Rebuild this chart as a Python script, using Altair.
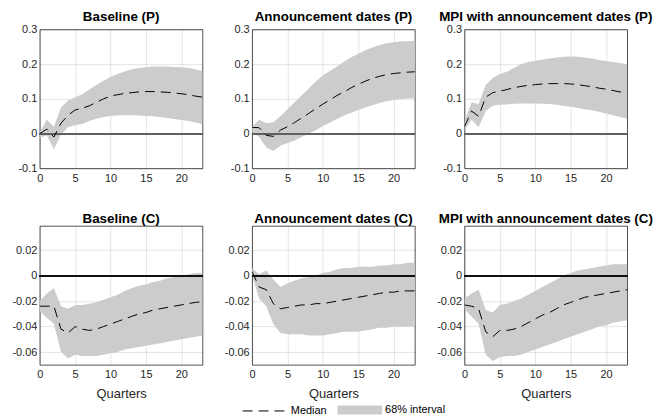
import altair as alt
import pandas as pd

# ── Data (quarters 0..23) ──
quarters = list(range(24))

titles = [
    'Baseline (P)', 'Announcement dates (P)', 'MPI with announcement dates (P)',
    'Baseline (C)', 'Announcement dates (C)', 'MPI with announcement dates (C)',
]

# Baseline (P)
base_p_med = [0.0, 0.013, -0.01, 0.03, 0.053, 0.068, 0.073, 0.08, 0.09, 0.1, 0.108, 0.112,
              0.116, 0.118, 0.12, 0.121, 0.121, 0.12, 0.119, 0.117, 0.115, 0.112, 0.108, 0.105]
base_p_lo = [-0.012, -0.005, -0.045, -0.003, 0.018, 0.024, 0.028, 0.036, 0.043, 0.048, 0.051, 0.053,
             0.053, 0.053, 0.052, 0.051, 0.05, 0.048, 0.045, 0.042, 0.039, 0.036, 0.032, 0.028]
base_p_hi = [0.005, 0.04, 0.02, 0.075, 0.095, 0.105, 0.113, 0.127, 0.14, 0.152, 0.163, 0.172,
             0.179, 0.185, 0.189, 0.191, 0.193, 0.193, 0.193, 0.192, 0.191, 0.189, 0.185, 0.18]

# Announcement dates (P)
ann_p_med = [0.018, 0.017, -0.005, -0.008, 0.01, 0.02, 0.032, 0.045, 0.058, 0.072, 0.085, 0.097,
             0.11, 0.12, 0.132, 0.142, 0.151, 0.159, 0.165, 0.17, 0.173, 0.175, 0.177, 0.178]
ann_p_lo = [0.005, -0.01, -0.04, -0.05, -0.035, -0.027, -0.02, -0.01, 0.0, 0.01, 0.022, 0.032,
            0.042, 0.052, 0.06, 0.068, 0.075, 0.082, 0.088, 0.093, 0.097, 0.1, 0.101, 0.102]
ann_p_hi = [0.02, 0.04, 0.03, 0.033, 0.05, 0.07, 0.09, 0.11, 0.13, 0.15, 0.167, 0.18,
            0.193, 0.207, 0.22, 0.23, 0.24, 0.248, 0.255, 0.26, 0.263, 0.265, 0.266, 0.267]

# MPI with announcement dates (P)
mpi_p_med = [0.02, 0.065, 0.05, 0.105, 0.118, 0.122, 0.127, 0.132, 0.136, 0.139, 0.141, 0.143,
             0.144, 0.144, 0.144, 0.143, 0.141, 0.138, 0.135, 0.131, 0.128, 0.124, 0.12, 0.115]
mpi_p_lo = [0.01, 0.04, 0.018, 0.065, 0.08, 0.083, 0.084, 0.086, 0.087, 0.087, 0.087, 0.086,
            0.085, 0.083, 0.08, 0.077, 0.074, 0.07, 0.067, 0.063, 0.058, 0.053, 0.048, 0.043]
mpi_p_hi = [0.035, 0.09, 0.085, 0.14, 0.16, 0.172, 0.178, 0.19, 0.2, 0.206, 0.21, 0.213,
            0.216, 0.219, 0.221, 0.222, 0.221, 0.219, 0.216, 0.212, 0.209, 0.206, 0.203, 0.2]

# Baseline (C)
base_c_med = [-0.024, -0.024, -0.024, -0.042, -0.045, -0.04, -0.042, -0.043, -0.042, -0.04, -0.038, -0.036,
              -0.034, -0.032, -0.03, -0.029, -0.027, -0.026, -0.025, -0.024, -0.023, -0.022, -0.021, -0.0205]
base_c_lo = [-0.028, -0.033, -0.038, -0.06, -0.065, -0.062, -0.063, -0.063, -0.063, -0.062, -0.061, -0.06,
             -0.058, -0.057, -0.056, -0.055, -0.054, -0.053, -0.052, -0.051, -0.05, -0.049, -0.048, -0.047]
base_c_hi = [-0.02, -0.014, -0.01, -0.024, -0.026, -0.023, -0.023, -0.022, -0.021, -0.019, -0.017, -0.015,
             -0.012, -0.01, -0.008, -0.007, -0.005, -0.004, -0.002, -0.001, 0.0, 0.001, 0.002, 0.002]

# Announcement dates (C)
ann_c_med = [0.003, -0.009, -0.011, -0.022, -0.026, -0.025, -0.024, -0.023, -0.023, -0.022, -0.022, -0.021,
             -0.02, -0.019, -0.018, -0.017, -0.016, -0.015, -0.014, -0.013, -0.013, -0.012, -0.012, -0.012]
ann_c_lo = [0.0, -0.018, -0.024, -0.038, -0.045, -0.046, -0.046, -0.046, -0.047, -0.047, -0.047, -0.046,
            -0.045, -0.044, -0.044, -0.044, -0.043, -0.042, -0.041, -0.041, -0.04, -0.04, -0.04, -0.04]
ann_c_hi = [0.006, 0.001, 0.004, -0.003, -0.009, -0.006, -0.004, -0.002, -0.001, 0.0, 0.002, 0.003,
            0.005, 0.006, 0.006, 0.007, 0.007, 0.007, 0.008, 0.008, 0.009, 0.009, 0.01, 0.01]

# MPI with announcement dates (C)
mpi_c_med = [-0.023, -0.024, -0.026, -0.044, -0.048, -0.043, -0.043, -0.042, -0.04, -0.037, -0.034, -0.031,
             -0.029, -0.026, -0.023, -0.021, -0.019, -0.017, -0.016, -0.015, -0.014, -0.013, -0.012, -0.011]
mpi_c_lo = [-0.026, -0.032, -0.038, -0.062, -0.067, -0.064, -0.063, -0.063, -0.062, -0.06, -0.058, -0.056,
            -0.054, -0.052, -0.05, -0.048, -0.046, -0.044, -0.042, -0.04, -0.039, -0.037, -0.036, -0.035]
mpi_c_hi = [-0.018, -0.014, -0.011, -0.027, -0.029, -0.023, -0.022, -0.02, -0.018, -0.015, -0.012, -0.009,
            -0.006, -0.003, 0.0, 0.002, 0.004, 0.005, 0.006, 0.007, 0.008, 0.009, 0.009, 0.009]

medians = [base_p_med, ann_p_med, mpi_p_med, base_c_med, ann_c_med, mpi_c_med]
lowers = [base_p_lo, ann_p_lo, mpi_p_lo, base_c_lo, ann_c_lo, mpi_c_lo]
uppers = [base_p_hi, ann_p_hi, mpi_p_hi, base_c_hi, ann_c_hi, mpi_c_hi]

x_ticks = [0, 5, 10, 15, 20]
top_ticks = [-0.1, 0, 0.1, 0.2, 0.3]
bottom_ticks = [-0.06, -0.04, -0.02, 0, 0.02]

FONT = 'Liberation Sans'
W, H = 164, 140


def panel(i):
    top = i < 3
    df = pd.DataFrame({
        'q': quarters, 'med': medians[i], 'lo': lowers[i], 'hi': uppers[i],
        'band': '68% interval', 'line': 'Median',
    })
    x_axis = alt.Axis(values=x_ticks, tickCount=10, title=None if top else 'Quarters',
                      labelOverlap=False, labelPadding=4, titlePadding=8)
    x = alt.X('q:Q', scale=alt.Scale(domain=[0, 23], nice=False, zero=False), axis=x_axis)
    y_scale = alt.Scale(domain=[-0.1, 0.3] if top else [-0.07, 0.039], nice=False, zero=False)
    y_axis = alt.Axis(values=top_ticks if top else bottom_ticks, tickCount=10, title=None,
                      labelOverlap=False, labelPadding=3, labelExpr="'' + datum.value")

    band = alt.Chart(df).mark_area(clip=True, opacity=1).encode(
        x=x,
        y=alt.Y('lo:Q', scale=y_scale, axis=y_axis),
        y2='hi:Q',
        fill=alt.Fill('band:N', scale=alt.Scale(domain=['68% interval'], range=['#cccccc']),
                      legend=alt.Legend(orient='none', legendX=300, legendY=361, title=None,
                                        symbolType='M-1,-0.2L1,-0.2L1,0.2L-1,0.2Z',
                                        symbolSize=2025, symbolStrokeWidth=0,
                                        symbolOpacity=1, labelOffset=3)),
    )
    zero = alt.Chart(df).mark_rule(
        color='#606060' if top else '#111111', strokeWidth=1.4 if top else 1.1
    ).encode(y=alt.datum(0))
    line = alt.Chart(df).mark_line(clip=True, color='black', strokeWidth=1).encode(
        x=x,
        y=alt.Y('med:Q', scale=y_scale, axis=y_axis),
        strokeDash=alt.StrokeDash('line:N', scale=alt.Scale(domain=['Median'], range=[[10, 6]]),
                                  legend=alt.Legend(orient='none', legendX=204, legendY=361,
                                                    title=None, symbolSize=2116,
                                                    symbolStrokeWidth=1,
                                                    symbolStrokeColor='black',
                                                    labelOffset=2)),
    )
    return (band + zero + line).properties(
        width=W, height=H,
        title=alt.Title(titles[i], fontSize=13.5, fontWeight='bold', font=FONT,
                        color='black', offset=0, frame='group'),
    )


chart = alt.concat(
    *[panel(i) for i in range(6)], columns=3,
    spacing={'row': 58, 'column': 50}, bounds='flush',
).resolve_scale(
    x='independent', y='independent',
).properties(
    padding={'left': 3, 'top': 0, 'right': 0, 'bottom': 0}
).configure(
    font=FONT,
).configure_view(
    stroke='#262626', strokeWidth=0.8,
).configure_axis(
    labelFont=FONT, labelFontSize=11, labelColor='#262626',
    titleFont=FONT, titleFontSize=13, titleFontWeight='normal', titleColor='#262626',
    labelFlush=False,
    domain=False, ticks=False,
    grid=True, gridColor='#262626', gridOpacity=0.15, gridWidth=0.8,
    zindex=1,
).configure_legend(
    labelFont=FONT, labelFontSize=11, labelColor='black', padding=0,
)

chart.save('out.html', embed_options={'renderer': 'svg', 'actions': False})
